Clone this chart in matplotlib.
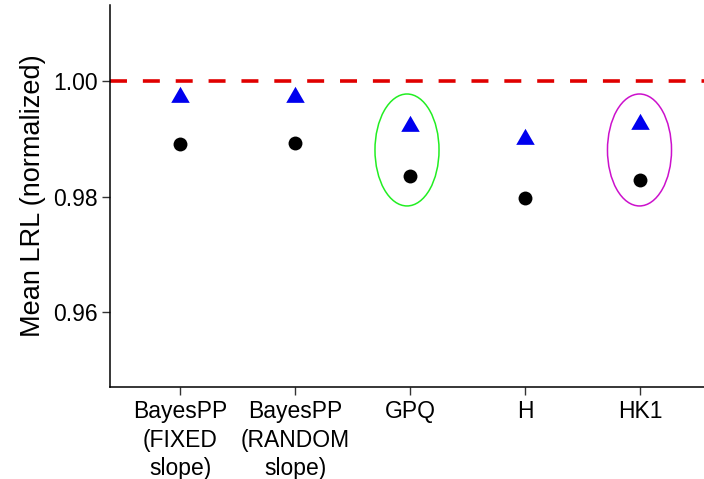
import matplotlib as mpl
mpl.use('Agg')
import matplotlib.pyplot as plt
from matplotlib.patches import Ellipse

mpl.rcParams['font.family'] = ['Liberation Sans', 'DejaVu Sans']

# Data
methods = ['BayesPP\n(FIXED\nslope)', 'BayesPP\n(RANDOM\nslope)', 'GPQ', 'H', 'HK1']
lrl_tri = [0.9972, 0.9973, 0.9923, 0.9900, 0.9925]
lrl_dot = [0.9891, 0.9892, 0.9835, 0.9798, 0.9829]
yticks = [0.96, 0.98, 1.00]
ref_level = 1.00

# highlighted methods: (x center, y center, width, height, colour)
rings = [(2.974, 0.98807, 0.557, 0.01936, '#22ee22'),
         (4.996, 0.98807, 0.557, 0.01936, '#cc11cc')]

fig = plt.figure(figsize=(7.04, 4.79), dpi=100)
ax = fig.add_axes([0.15625, 0.19144, 0.84375, 0.79812])

x = list(range(1, len(methods) + 1))

ax.axhline(ref_level, color='#e00000', linewidth=2.6, dashes=(4.7, 4.4),
           dash_capstyle='butt', zorder=1)
ax.plot(x, lrl_tri, linestyle='none', marker=(3, 0, 0), markersize=15.4,
        color='#0000ee', markeredgewidth=0, zorder=3)
ax.plot(x, lrl_dot, linestyle='none', marker='o', markersize=10,
        color='black', markeredgewidth=0, zorder=3)

for cx, cy, w, h, c in rings:
    ax.add_patch(Ellipse((cx, cy), w, h, fill=False, edgecolor=c,
                         linewidth=1.1, zorder=2))

ax.set_xlim(0.391, 5.557)
ax.set_ylim(0.94703, 1.01314)
ax.set_xticks(x)
ax.set_xticklabels(methods, fontsize=16.5, linespacing=1.32)
ax.set_yticks(yticks)
ax.set_yticklabels(['%.2f' % v for v in yticks], fontsize=16.5)
ax.set_ylabel('Mean LRL (normalized)', fontsize=19.5, labelpad=5)

ax.spines['top'].set_visible(False)
ax.spines['right'].set_visible(False)
for s in ['left', 'bottom']:
    ax.spines[s].set_linewidth(1.1)
ax.tick_params(axis='both', direction='out', length=5.5, width=1.0,
               color='#333333', pad=3.5)

fig.savefig('out.png', dpi=100)
